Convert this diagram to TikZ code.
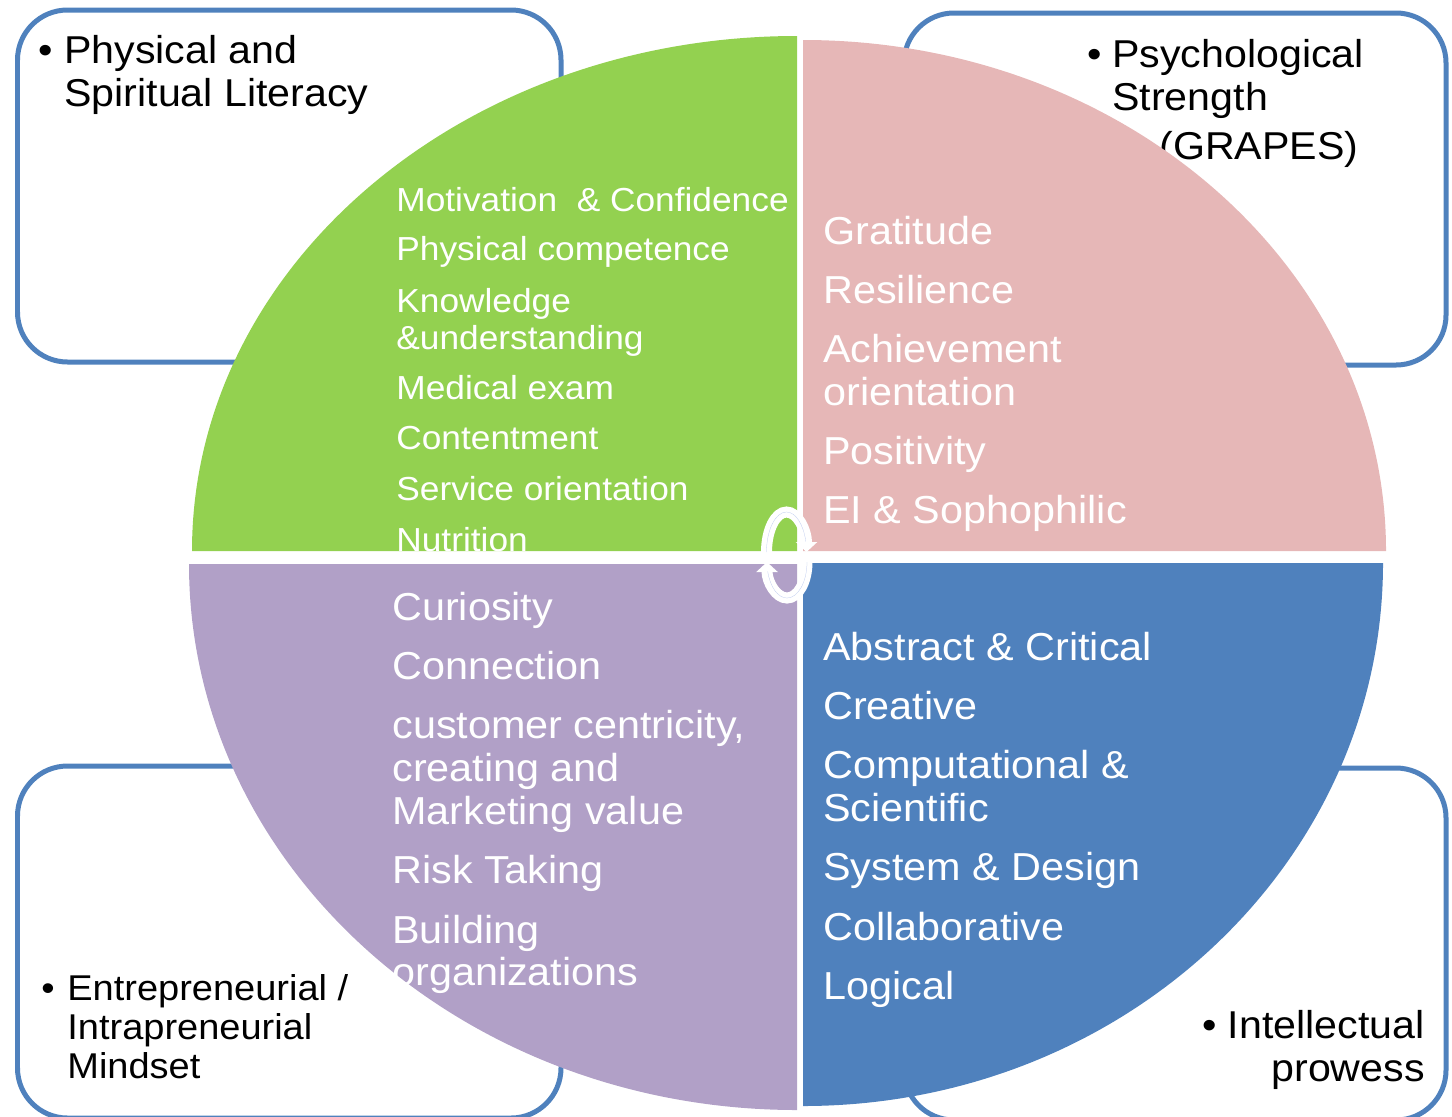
\documentclass[tikz,border=0pt]{standalone}
\usepackage{fontspec}
\setmainfont[FakeStretch=1.06]{Liberation Sans}
\usepackage{tikz}
\usetikzlibrary{arrows.meta}
\definecolor{leafgreen}{HTML}{93D150}
\definecolor{rosepink}{HTML}{E6B7B7}
\definecolor{softpurple}{HTML}{B1A0C7}
\definecolor{steelblue}{HTML}{4F81BD}

\begin{document}
\begin{tikzpicture}[x=0.02cm,y=-0.02cm,
    infobox/.style={draw=steelblue,line width=0.1cm,rounded corners=1cm},
    sector/.style={draw=none},
    darktext/.style={anchor=base west,black,font=\fontsize{22.1}{25}\selectfont},
    smalldark/.style={anchor=base west,black,font=\fontsize{20.4}{23}\selectfont},
    greentext/.style={anchor=base west,white,font=\fontsize{18.95}{22}\selectfont},
    lighttext/.style={anchor=base west,white,font=\fontsize{22.2}{25}\selectfont},
    cyclearc/.style={white,line width=0.22cm,-{Triangle[length=0.2cm,width=0.42cm]}},
    cycleline/.style={blue!25!steelblue!35!white,line width=0.15pt}]
      \tikzstyle{every node}+=[inner sep=0pt]
      \useasboundingbox (0,0) rectangle (1452,1116);
      \clip (0,0) rectangle (1452,1116);
      \draw [infobox] (17.5,10) rectangle (561,362);
      \draw [infobox] (904,13) rectangle (1446,365);
      \draw [infobox] (17.5,766) rectangle (561,1118);
      \draw [infobox] (904,768) rectangle (1446,1120);
      \node [darktext] (bulletTL) at (38,63) {•};
      \node [darktext] (literacyA) at (64,63) {Physical and};
      \node [darktext] (literacyB) at (64,106) {Spiritual Literacy};
      \node [darktext] (bulletTR) at (1087,67) {•};
      \node [darktext] (strengthA) at (1112,67) {Psychological};
      \node [darktext] (strengthB) at (1112,110) {Strength};
      \node [darktext] (strengthC) at (1159,159) {(GRAPES)};
      \node [smalldark] (bulletBL) at (41,1000) {•};
      \node [smalldark] (mindsetA) at (67,1000) {Entrepreneurial /};
      \node [smalldark] (mindsetB) at (67,1039) {Intrapreneurial};
      \node [smalldark] (mindsetC) at (67,1078) {Mindset};
      \node [darktext] (bulletBR) at (1202,1038) {•};
      \node [darktext,anchor=base east] (prowessA) at (1425,1038) {Intellectual};
      \node [darktext,anchor=base east] (prowessB) at (1425,1081) {prowess};
      \fill [sector,leafgreen] (797,551) -- (192,551) arc [start angle=180,end angle=270,x radius=605,y radius=515] -- cycle;
      \fill [sector,rosepink] (803,551) -- (803,40) arc [start angle=270,end angle=360,x radius=583,y radius=511] -- cycle;
      \fill [sector,softpurple] (797,564) -- (189,564) arc [start angle=180,end angle=90,x radius=608,y radius=546] -- cycle;
      \fill [sector,steelblue] (803,563) -- (1383,563) arc [start angle=0,end angle=90,x radius=580,y radius=543] -- cycle;
      \foreach \i/\y/\txt in {1/211/{Motivation\ \ \& Confidence},2/260/Physical competence,3/312/Knowledge,
          4/349/\&understanding,5/399/Medical exam,6/449/Contentment,7/500/Service orientation,8/551/Nutrition}
        \node [greentext] (green\i) at (396,\y) {\txt};
      \foreach \i/\y/\txt in {1/244/Gratitude,2/303/Resilience,3/362/Achievement,4/405/orientation,
          5/464/Positivity,6/523/EI \& Sophophilic}
        \node [lighttext] (pink\i) at (823,\y) {\txt};
      \foreach \i/\y/\txt in {1/620/Curiosity,2/679/Connection,3/738/{customer centricity,},4/781/creating and,
          5/824/Marketing value,6/883/Risk Taking,7/943/Building,8/985/organizations}
        \node [lighttext] (purple\i) at (392,\y) {\txt};
      \foreach \i/\y/\txt in {1/660/Abstract \& Critical,2/719/Creative,3/778/Computational \&,4/821/Scientific,
          5/880/System \& Design,6/940/Collaborative,7/999/Logical}
        \node [lighttext] (blue\i) at (823,\y) {\txt};
      \draw [cyclearc] (766.5,552) arc [start angle=180,end angle=360,x radius=20,y radius=40];
      \draw [cyclearc] (807,562) arc [start angle=0,end angle=180,x radius=20,y radius=36];
      \draw [cycleline] (766.5,552) arc [start angle=180,end angle=345,x radius=20,y radius=40];
      \draw [cycleline] (807,562) arc [start angle=0,end angle=165,x radius=20,y radius=36];
    \end{tikzpicture}
\end{document}
